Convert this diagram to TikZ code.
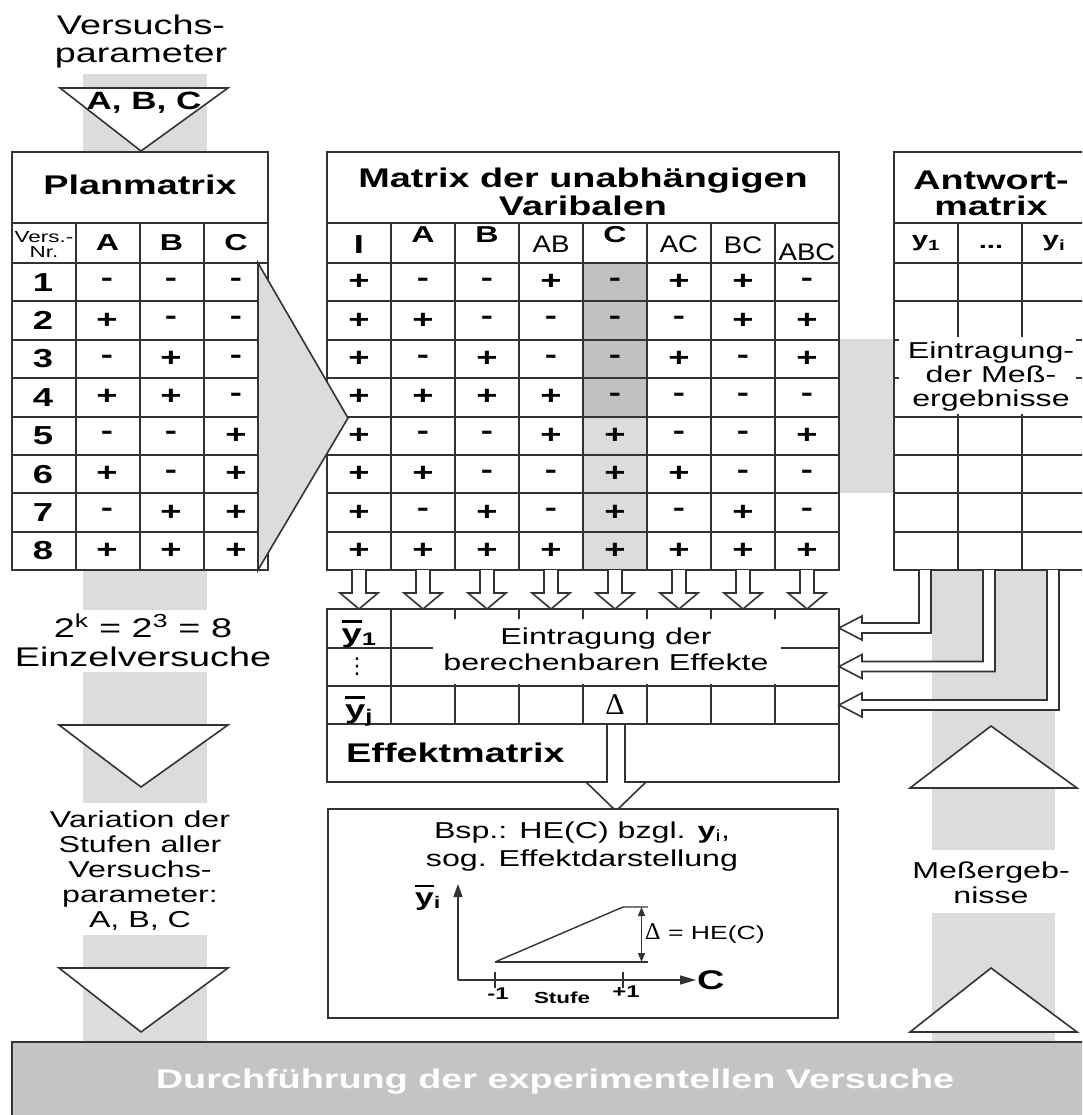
\documentclass[tikz,border=0pt]{standalone}
\usepackage{fontspec}
\setmainfont{Liberation Sans}[FakeStretch=1.4]
\newfontfamily\midfont{Liberation Sans}[FakeStretch=1.15]
\newfontfamily\serifdelta{Liberation Serif}
\newfontfamily\dejavu{DejaVu Sans}
\usetikzlibrary{arrows.meta}
\definecolor{bandgray}{HTML}{DCDCDC}
\definecolor{darkcell}{HTML}{C0C0C0}
\definecolor{boxgray}{HTML}{C4C4C4}
\definecolor{linecol}{HTML}{333333}
\newcommand\ybarsub[1]{\leavevmode\setbox0\hbox{y}\rlap{\rule[0.74em]{\wd0}{0.09em}}y\textsubscript{#1}}
\tikzset{
  frame/.style={draw=linecol, line width=2pt},
  gline/.style={draw=linecol, line width=2pt},
  hollow/.style={draw=linecol, line width=1.6pt, fill=white},
  tri/.style={draw=linecol, line width=1.6pt, fill=white},
  thin/.style={draw=linecol, line width=1.4pt},
  ttl/.style={font=\fontsize{27}{27}\selectfont\bfseries, inner sep=0pt, anchor=base},
  txt/.style={font=\fontsize{27}{27}\selectfont, inner sep=0pt, anchor=base},
  sm/.style={font=\fontsize{23}{23}\selectfont, inner sep=0pt, anchor=base},
  cellv/.style={font=\fontsize{26}{26}\selectfont\bfseries, inner sep=0pt},
  hdr/.style={font=\fontsize{23}{23}\selectfont\bfseries, inner sep=0pt, anchor=base},
  hdrn/.style={font=\fontsize{24}{24}\selectfont\midfont, inner sep=0pt, anchor=base},
}
\begin{document}
\begin{tikzpicture}[x=1pt,y=-1pt,line join=miter]
\useasboundingbox (0,0) rectangle (1082,1115);
\clip (0,0) rectangle (1082,1115);

% ---------- grey bands ----------
\fill[bandgray] (83,74) rectangle (207,152);
\fill[bandgray] (83,570) rectangle (207,610);
\fill[bandgray] (83,672) rectangle (207,803);
\fill[bandgray] (83,935) rectangle (207,1042);
\fill[bandgray] (839,339) rectangle (894,493);
\fill[bandgray] (932,570) rectangle (1055,850);
\fill[bandgray] (932,913) rectangle (1055,1042);

% ---------- top input ----------
\node[txt] (vp1) at (141,35) {Versuchs-};
\node[txt] (vp2) at (141,63) {parameter};
\draw[tri] (60,88) -- (228,88) -- (141,151) -- cycle;
\node[font=\fontsize{25}{25}\selectfont\bfseries, inner sep=0pt, anchor=base] (abc) at (144,110) {A, B, C};

% ---------- Planmatrix ----------
\draw[frame, fill=white] (12,152) rectangle (268,570);
\draw[gline] (12,223) -- (268,223);
\draw[gline] (12,263) -- (268,263);
\foreach \i in {1,...,7} \draw[gline] (12,{263+38.375*\i}) -- (258,{263+38.375*\i});
\foreach \x in {76,139.5,204} \draw[gline] (\x,223) -- (\x,570);
\draw[gline] (258,263) -- (258,570);
\node[ttl] (plan) at (140,195) {Planmatrix};
\node[font=\fontsize{16}{16}\selectfont, inner sep=0pt, anchor=base] (vn1) at (44,243) {Vers.-};
\node[font=\fontsize{16}{16}\selectfont, inner sep=0pt, anchor=base] (vn2) at (44,258) {Nr.};
\node[hdr] (pA) at (107.5,251) {A};
\node[hdr] (pB) at (171.5,251) {B};
\node[hdr] (pC) at (236,251) {C};
\foreach \a/\b/\c [count=\i] in {-/-/-, +/-/-, -/+/-, +/+/-, -/-/+, +/-/+, -/+/+, +/+/+} {
  \node[cellv] (pn\i) at (43,{243.8125+38.375*\i}) {\i};
  \node[cellv] (pa\i) at (107,{243.8125+38.375*\i}) {\a};
  \node[cellv] (pb\i) at (171,{243.8125+38.375*\i}) {\b};
  \node[cellv] (pc\i) at (236,{243.8125+38.375*\i}) {\c};
}

% ---------- Matrix der unabhaengigen Variablen ----------
\fill[white] (327,152) rectangle (839,570);
\fill[darkcell] (583,263) rectangle (647,416.5);
\fill[bandgray] (583,416.5) rectangle (647,570);
\draw[gline] (327,223) -- (839,223);
\draw[gline] (327,263) -- (839,263);
\foreach \i in {1,...,7} \draw[gline] (327,{263+38.375*\i}) -- (839,{263+38.375*\i});
\foreach \x in {391,455,519,583,647,711,775} \draw[gline] (\x,223) -- (\x,570);
\draw[frame] (327,152) rectangle (839,570);
\node[ttl] (mt1) at (583,188) {Matrix der unabhängigen};
\node[ttl] (mt2) at (583,216) {Varibalen};
\node[font=\fontsize{26}{26}\selectfont\bfseries, inner sep=0pt, anchor=base] (hI) at (359,253) {I};
\node[hdr] (hA) at (423,243) {A};
\node[hdr] (hB) at (487,243) {B};
\node[hdrn] (hAB) at (551,252) {AB};
\node[hdr] (hC) at (615,243) {C};
\node[hdrn] (hAC) at (679,252) {AC};
\node[hdrn] (hBC) at (743,253) {BC};
\node[hdrn] (hABC) at (807,260) {ABC};
\foreach \row [count=\i] in {{+,-,-,+,-,+,+,-},{+,+,-,-,-,-,+,+},{+,-,+,-,-,+,-,+},{+,+,+,+,-,-,-,-},{+,-,-,+,+,-,-,+},{+,+,-,-,+,+,-,-},{+,-,+,-,+,-,+,-},{+,+,+,+,+,+,+,+}} {
  \foreach \v [count=\j] in \row {
    \node[cellv] (m\i\j) at ({295+64*\j},{243.8125+38.375*\i}) {\v};
  }
}

% grey arrow between Planmatrix and matrix
\draw[line width=1.6pt, draw=linecol, fill=bandgray] (258,263) -- (348,418) -- (258,570) -- cycle;

% ---------- Antwortmatrix ----------
\draw[frame, fill=white] (894,152) rectangle (1090,570);
\draw[gline] (894,223) -- (1090,223);
\draw[gline] (894,263) -- (1090,263);
\foreach \i in {1,...,7} \draw[gline] (894,{263+38.375*\i}) -- (1090,{263+38.375*\i});
\foreach \x in {958,1022} \draw[gline] (\x,223) -- (\x,570);
\fill[white] (899,337) rectangle (1076,414);
\node[ttl] (at1) at (991,190) {Antwort-};
\node[ttl] (at2) at (991,216) {matrix};
\node[font=\fontsize{21}{21}\selectfont\bfseries, inner sep=0pt, anchor=base] (ay1) at (926,247) {y\textsubscript{1}};
\node[font=\fontsize{21}{21}\selectfont\bfseries, inner sep=0pt, anchor=base] (ay2) at (991,248) {...};
\node[font=\fontsize{21}{21}\selectfont\bfseries, inner sep=0pt, anchor=base] (ay3) at (1054,247) {y\textsubscript{i}};
\node[sm] (em1) at (991,358) {Eintragung-};
\node[sm] (em2) at (991,382) {der Meß-};
\node[sm] (em3) at (991,406) {ergebnisse};

% ---------- Effektmatrix ----------
\draw[frame, fill=white] (327,609) rectangle (839,782);
\draw[gline] (327,724) -- (839,724);
\draw[gline] (327,686) -- (839,686);
\draw[gline] (327,647.5) -- (839,647.5);
\foreach \x in {391,455,519,583,647,711,775} \draw[gline] (\x,609) -- (\x,724);
\fill[white] (433,619) rectangle (781,684);
\draw[frame] (327,609) rectangle (839,782);
\node[font=\fontsize{26}{26}\selectfont\bfseries, inner sep=0pt, anchor=base] (ey1) at (359,642) {\ybarsub{1}};
\node[font=\fontsize{22}{22}\selectfont\dejavu, inner sep=0pt] (ey2) at (357,667) {⋮};
\node[font=\fontsize{26}{26}\selectfont\bfseries, inner sep=0pt, anchor=base] (ey3) at (359,718) {\ybarsub{j}};
\node[sm] (ee1) at (606,644) {Eintragung der};
\node[sm] (ee2) at (606,670) {berechenbaren Effekte};
\node[font=\fontsize{30}{30}\selectfont\serifdelta, inner sep=0pt] (delta) at (615,705) {Δ};
\node[ttl, anchor=base west] (eff) at (346,762) {Effektmatrix};

% small hollow arrows matrix -> Effektmatrix
\foreach \j in {1,...,8} {
  \pgfmathsetmacro\cx{295+64*\j}
  \draw[hollow] ({\cx-7},570) -- ({\cx-7},593) -- ({\cx-19},593) -- (\cx,609) -- ({\cx+19},593) -- ({\cx+7},593) -- ({\cx+7},570);
}

% arrows Antwortmatrix -> Effektmatrix
\foreach \cx/\yy in {925/628, 989/666.5, 1053/705} {
  \draw[hollow] ({\cx-6},570) -- ({\cx-6},{\yy-5}) -- (862,{\yy-5}) -- (862,{\yy-12}) -- (839,\yy) -- (862,{\yy+12}) -- (862,{\yy+5}) -- ({\cx+6},{\yy+5}) -- ({\cx+6},570);
}

% big arrow Delta -> Bsp
\draw[hollow] (607,725) -- (607,782) -- (586,782) -- (616,811) -- (646,782) -- (625,782) -- (625,725);

% ---------- Bsp box ----------
\draw[frame, fill=white] (328,809) rectangle (838,1018);
\node[sm] (bs1) at (582,838) {Bsp.: HE(C) bzgl. {\bfseries y}\textsubscript{i},};
\node[sm] (bs2) at (582,866) {sog. Effektdarstellung};
\coordinate (org) at (458,980);
\coordinate (ytop) at (458,884);
\coordinate (xend) at (696,980);
\draw[thin, -{Triangle[length=13pt,width=9pt]}] (org) -- (ytop);
\draw[thin, -{Triangle[length=16pt,width=9pt]}] (org) -- (xend);
\node[font=\fontsize{27}{27}\selectfont\bfseries, inner sep=0pt, anchor=west] (cax) at (697,980) {C};
\node[font=\fontsize{24}{24}\selectfont\bfseries, inner sep=0pt, anchor=base] (ybar) at (428,905) {\ybarsub{i}};
\coordinate (tm1a) at (495,972);
\coordinate (tm1b) at (495,988);
\coordinate (tp1a) at (623,972);
\coordinate (tp1b) at (623,988);
\draw[thin] (tm1a) -- (tm1b);
\draw[thin] (tp1a) -- (tp1b);
\node[font=\fontsize{17}{17}\selectfont\bfseries, inner sep=0pt, anchor=base] (lm1) at (498,999) {-1};
\node[font=\fontsize{17}{17}\selectfont\bfseries, inner sep=0pt, anchor=base] (lp1) at (626,997) {+1};
\node[font=\fontsize{16}{16}\selectfont\bfseries, inner sep=0pt, anchor=base] (stufe) at (562,1003) {Stufe};
\coordinate (p1) at (495,962);
\coordinate (p2) at (623,907);
\coordinate (p3) at (648,962);
\coordinate (p4) at (648,907);
\draw[thin] (p1) -- (p2) -- (p4);
\draw[thin] (p1) -- (p3);
\coordinate (da) at (641.5,907);
\coordinate (db) at (641.5,962);
\draw[thin, {Triangle[length=9pt,width=7pt]}-{Triangle[length=9pt,width=7pt]}] (da) -- (db);
\node[font=\fontsize{19}{19}\selectfont, inner sep=0pt, anchor=west] (dhe) at (645,934) {{\serifdelta\fontsize{24}{24}\selectfont Δ} = HE(C)};

% ---------- left texts and triangles ----------
\node[txt] (ev1) at (143,637) {2\textsuperscript{k} = 2\textsuperscript{3} = 8};
\node[txt] (ev2) at (143,666) {Einzelversuche};
\draw[tri] (59,725) -- (228,725) -- (141,787) -- cycle;
\node[sm] (va1) at (140,827) {Variation der};
\node[sm] (va2) at (140,852) {Stufen aller};
\node[sm] (va3) at (140,877) {Versuchs-};
\node[sm] (va4) at (140,902) {parameter:};
\node[sm] (va5) at (140,927) {A, B, C};
\draw[tri] (59,968) -- (228,968) -- (141,1032) -- cycle;

% ---------- right texts and triangles ----------
\draw[tri] (910,788) -- (1077,788) -- (991,726) -- cycle;
\node[sm] (me1) at (991,878) {Meßergeb-};
\node[sm] (me2) at (991,903) {nisse};
\draw[tri] (910,1032) -- (1077,1032) -- (991,968) -- cycle;

% ---------- bottom box ----------
\draw[frame, fill=boxgray] (12,1042) rectangle (1100,1130);
\node[font=\fontsize{27}{27}\selectfont\bfseries, text=white, inner sep=0pt] (durch) at (555,1082) {Durchführung der experimentellen Versuche};
\end{tikzpicture}
\end{document}
